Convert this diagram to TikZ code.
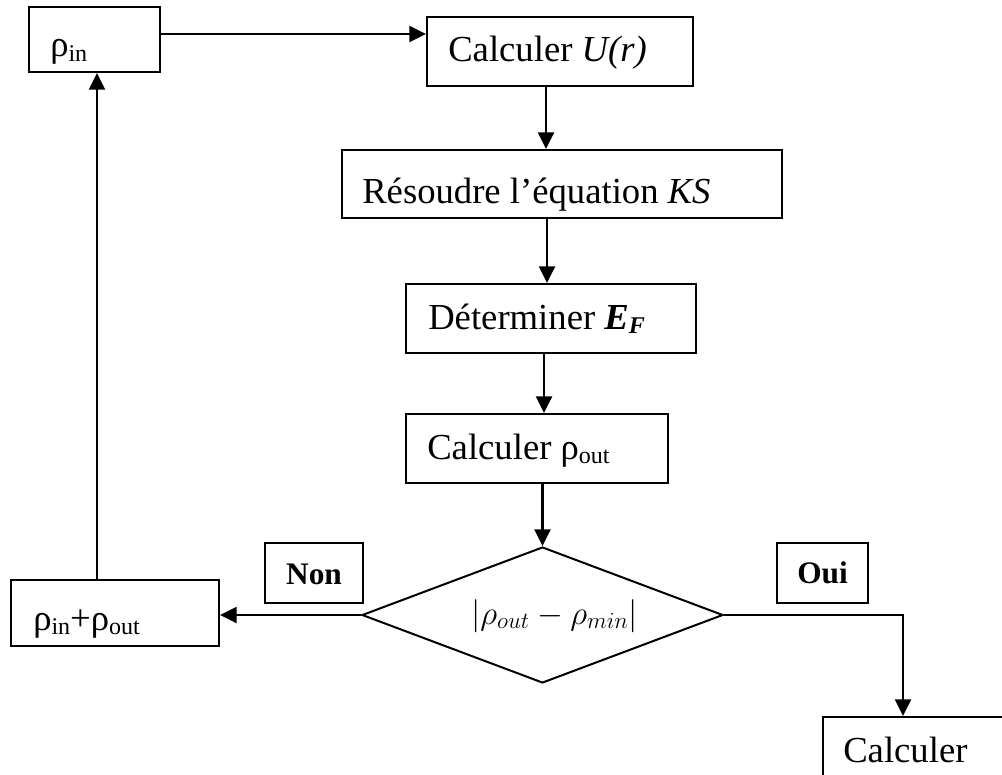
\documentclass[tikz,border=0pt]{standalone}
\usepackage{fontspec}
\setmainfont{Liberation Serif}
\usetikzlibrary{shapes.geometric,arrows.meta}
\newcommand\sbt[1]{\raisebox{-3.5pt}{\fontsize{18}{20}\selectfont #1}}
\begin{document}
\begin{tikzpicture}[x=0.75pt,y=-0.75pt,
  boxst/.style={draw, line width=1.5pt, rectangle, inner sep=0pt},
  txt/.style={inner sep=0pt, anchor=base west, font=\fontsize{27.5}{33}\selectfont},
  lbl/.style={inner sep=0pt, anchor=base, font=\fontsize{23.5}{28}\selectfont\bfseries},
  arr/.style={line width=1.8pt, -{Triangle[length=12.5pt,width=12pt]}}]
\useasboundingbox (0,0) rectangle (1002,774);
\clip (0,0) rectangle (1002,774);
% boxes
\node[boxst, minimum width=98.25pt, minimum height=48.75pt] (rin) at (94.5,39.5) {};
\node[boxst, minimum width=199.5pt, minimum height=51.75pt] (cu) at (560,51.5) {};
\node[boxst, minimum width=330pt, minimum height=51pt] (ks) at (562,184) {};
\node[boxst, minimum width=217.5pt, minimum height=51.75pt] (ef) at (551,318.5) {};
\node[boxst, minimum width=196.5pt, minimum height=51.75pt] (ro) at (537,448.5) {};
\node[draw, line width=1.5pt, diamond, inner sep=0pt, minimum width=270.75pt, minimum height=102pt] (dia) at (542.5,615) {};
\node[boxst, minimum width=156pt, minimum height=49.5pt] (sum) at (115,613) {};
\node[boxst, minimum width=73.5pt, minimum height=45pt] (non) at (314,573) {};
\node[boxst, minimum width=68.25pt, minimum height=45pt] (oui) at (822.5,573) {};
\node[boxst, anchor=north west, minimum width=187.5pt, minimum height=75pt] (calc) at (822,716) {};
% texts
\node[txt] (trin) at (50,57) {ρ\sbt{in}};
\node[txt] (tcu) at (448,61) {Calculer \textit{U(r)}};
\node[txt] (tks) at (362,203) {Résoudre l’équation \textit{KS}};
\node[txt] (tef) at (428,329) {Déterminer \textbf{\textit{E}}\sbt{\textbf{\textit{F}}}};
\node[txt] (tro) at (427,459) {Calculer ρ\sbt{out}};
\node[inner sep=0pt, anchor=base west, font=\fontsize{24}{28}\selectfont] (tdia) at (471,624) {$|\rho_{out}-\rho_{min}|$};
\node[txt] (tsum) at (33,630) {ρ\sbt{in}+ρ\sbt{out}};
\node[lbl] (tnon) at (314,584) {Non};
\node[lbl] (toui) at (822.5,583) {Oui};
\node[txt] (tcalc) at (843,762) {Calculer};
% connectors
\draw[arr] ([yshift=4.125pt]rin.east) coordinate (a1) -- (a1 -| cu.west);
\draw[arr] (cu.south -| 546,0) -- (ks.north -| 546,0);
\draw[arr] (ks.south -| 547,0) -- (ef.north -| 547,0);
\draw[arr] (ef.south -| 544,0) -- (ro.north -| 544,0);
\draw[arr] (ro.south -| dia.north) -- (dia.north);
\draw[arr] (dia.west) -- (dia.west -| sum.east);
\draw[arr] (sum.north -| 97,0) -- (rin.south -| 97,0);
\draw[arr] (dia.east) -| (calc.north west -| 903,0);
\end{tikzpicture}
\end{document}
